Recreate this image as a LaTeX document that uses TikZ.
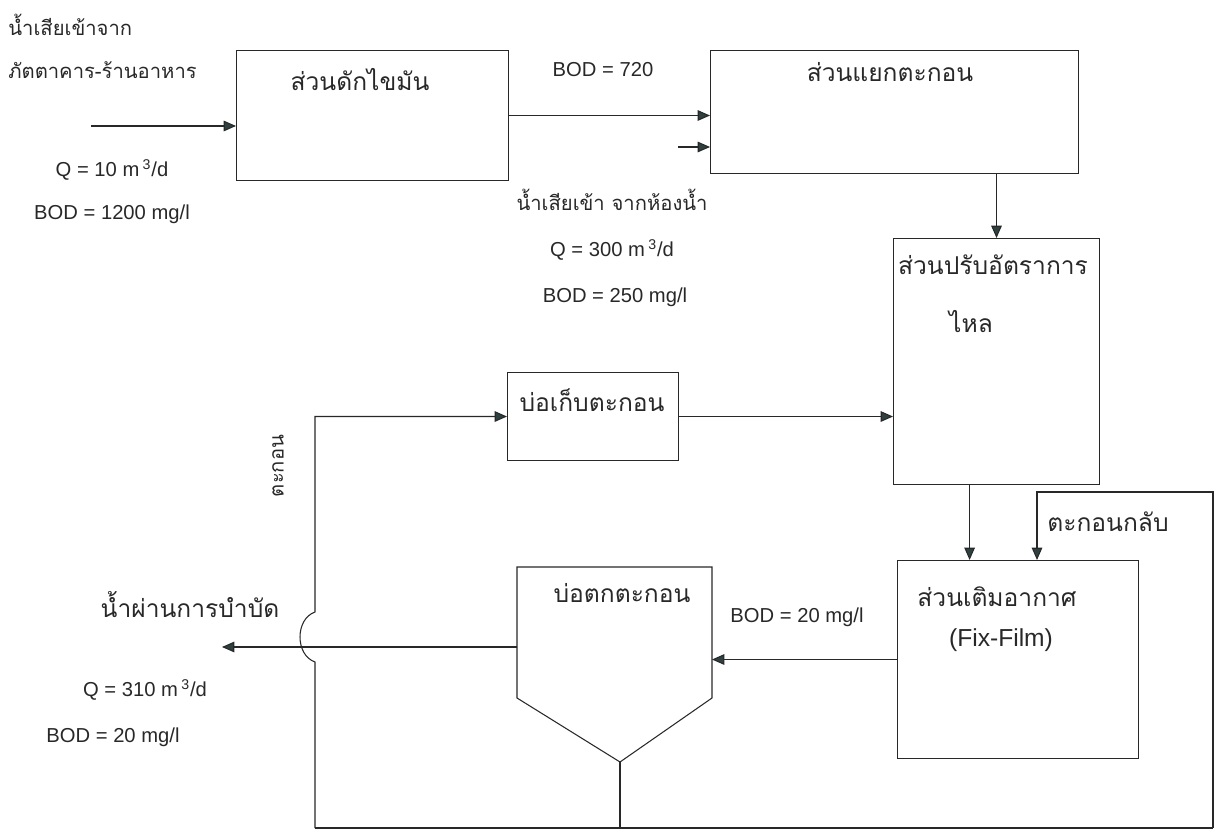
\documentclass[tikz,border=0pt]{standalone}
\usepackage{fontspec}
\setmainfont{Liberation Sans}
\newfontfamily\thaifont[Script=Thai]{Loma}
\usetikzlibrary{arrows.meta,calc,positioning}
\definecolor{ink}{RGB}{40,40,40}
\definecolor{tipc}{RGB}{45,65,65}
\tikzset{
  unit/.style={draw=ink,line width=.6pt,inner sep=0pt,anchor=north west},
  pipe/.style={draw=ink,line width=.6pt},
  flow/.style={pipe,-{Triangle[length=7pt,width=6pt,fill=tipc]}},
  lbl/.style={text=ink,inner sep=0pt,font=\thaifont\fontsize{14}{16}\selectfont},
  note/.style={text=ink,inner sep=0pt,font=\thaifont\fontsize{11.5}{14}\selectfont},
  val/.style={text=ink,inner sep=0pt,font=\fontsize{11.5}{14}\selectfont}
}
\begin{document}
\begin{tikzpicture}[x=.02cm,y=-.02cm]
\useasboundingbox (0,0) rectangle (1216,834);
\node[unit,minimum width=5.44cm,minimum height=2.6cm](grease) at (236,50){};
\node[unit,minimum width=7.36cm,minimum height=2.46cm](sep) at (710,50){};
\node[unit,minimum width=4.12cm,minimum height=4.92cm](equal) at (893,238){};
\node[unit,minimum width=3.42cm,minimum height=1.76cm](store) at (507,372){};
\node[unit,minimum width=4.82cm,minimum height=3.96cm](aer) at (897,560){};
\draw[pipe](517,567)--(712,567)--(712,698)--(620,762)coordinate(tankB)--(517,698)--cycle;
\coordinate(tankR) at (712,660);
\coordinate(tankL) at (517,647);
\coordinate(src) at (91,126);
\coordinate(wc) at (678,147);
\coordinate(out) at (222,647);
\coordinate(sl) at (315,828);
\coordinate(sr) at (1213,828);
\coordinate(rt) at (1037,492);
\coordinate(hopB) at (315,662);
\coordinate(hopT) at (315,612);

\node[note,anchor=west](in1) at (8,25){น้ำเสียเข้าจาก};
\node[note,anchor=west](in2) at (8,70){ภัตตาคาร-ร้านอาหาร};
\node[val](q1) at (112,170){Q = 10 m\,\textsuperscript{3}/d};
\node[val](b1) at (112,214){BOD = 1200 mg/l};
\node[lbl](tgrease) at (360,80){ส่วนดักไขมัน};
\node[val](b2) at (603,70){BOD = 720};
\node[lbl](tsep) at (890,72){ส่วนแยกตะกอน};
\node[note](wc1) at (612,200){น้ำเสียเข้า จากห้องน้ำ};
\node[val](q2) at (612,250){Q = 300 m\,\textsuperscript{3}/d};
\node[val](b3) at (615,297){BOD = 250 mg/l};
\node[lbl](tequal) at (993,265){ส่วนปรับอัตราการ};
\node[lbl](tequal2) at (971,322){ไหล};
\node[lbl](tstore) at (592,400){บ่อเก็บตะกอน};
\node[note,rotate=90](tsl) at (278,466){ตะกอน};
\node[lbl](tout) at (190,605){น้ำผ่านการบำบัด};
\node[val](q3) at (145,690){Q = 310 m\,\textsuperscript{3}/d};
\node[val](b4) at (113,737){BOD = 20 mg/l};
\node[lbl](ttank) at (622,593){บ่อตกตะกอน};
\node[val](b5) at (797,617){BOD = 20 mg/l};
\node[lbl](taer) at (997,597){ส่วนเติมอากาศ};
\node[val,font=\fontsize{14}{16}\selectfont](taer2) at (1001,640){(Fix-Film)};
\node[lbl](tret) at (1108,522){ตะกอนกลับ};

\draw[flow](src)--(src-|grease.west);
\draw[flow](grease.east)--(grease.east-|sep.west);
\draw[flow](wc)--(wc-|sep.west);
\draw[flow](equal.north|-sep.south)--(equal.north);
\draw[flow](store.east)--(store.east-|equal.west);
\draw[flow]($(equal.south west)!.37!(equal.south east)$)coordinate(eq)--(eq|-aer.north);
\draw[flow](aer.west)--(aer.west-|tankR);
\draw[flow](tankL)--(out);
\draw[pipe](tankB)--(tankB|-sl);
\draw[pipe](sl)--(sr);
\draw[flow](sl)--(hopB)..controls(295,655)and(295,619)..(hopT)|-(store.west);
\draw[flow](sr)|-(rt)--(rt|-aer.north);
\end{tikzpicture}
\end{document}
